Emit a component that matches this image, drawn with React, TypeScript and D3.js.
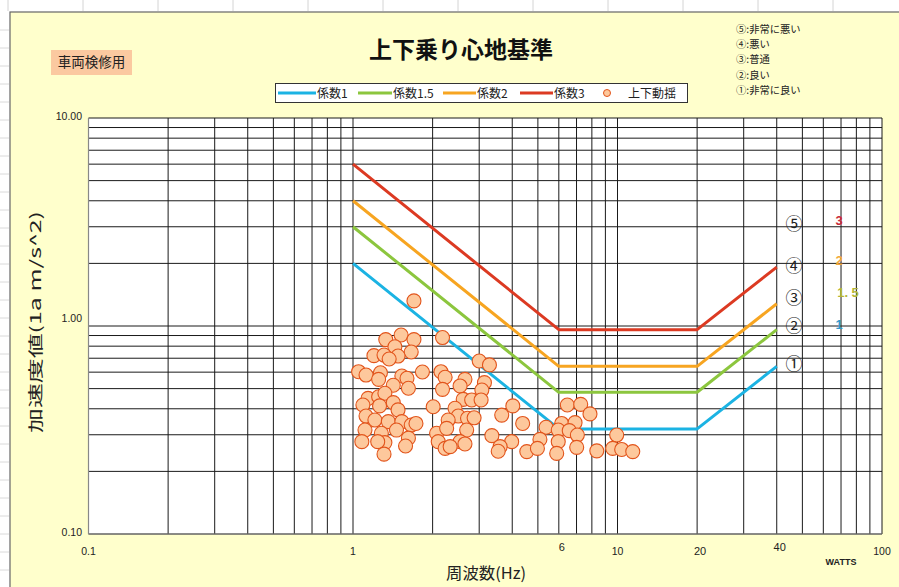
import React from "react";
import * as d3 from "d3";

// ---------- data ----------
const critFreq = [1, 6, 20, 40];
const coef1 = [2.0, 0.32, 0.32, 0.64];
const coef15 = [3.0, 0.48, 0.48, 0.96];
const coef2 = [4.0, 0.64, 0.64, 1.28];
const coef3 = [6.0, 0.96, 0.96, 1.92];

const seriesNames = ["係数1", "係数1.5", "係数2", "係数3"];
const seriesColors = ["#1bb3e3", "#8cc63e", "#f7a521", "#dc3a22"];
const seriesValues = [coef1, coef15, coef2, coef3];

const measFreq = [
  1.70, 2.18, 1.33, 1.52, 1.70, 1.44, 1.66, 1.20, 1.31, 1.48, 1.37, 1.05, 1.12, 1.27, 1.25,
  1.83, 1.53, 1.60, 1.42, 1.62, 2.15, 2.23, 2.18, 2.65, 2.54, 3.00, 3.28, 3.14, 3.07, 1.14,
  1.25, 1.32, 1.42, 1.09, 1.26, 1.48, 2.01, 2.61, 2.81, 3.05, 2.43, 1.12, 1.21, 1.36, 1.53,
  1.66, 1.73, 2.50, 2.71, 2.87, 2.29, 1.11, 1.28, 1.46, 1.62, 2.07, 2.26, 2.69, 3.35, 1.08,
  1.32, 1.24, 1.58, 2.10, 2.23, 2.54, 2.33, 1.31, 2.65, 4.02, 3.65, 4.38, 6.46, 7.26, 7.87,
  6.15, 6.91, 5.37, 5.97, 6.57, 7.05, 5.09, 5.97, 3.98, 3.60, 3.54, 4.54, 4.98, 5.89, 7.01,
  8.35, 9.93, 9.59, 10.37, 11.42,
];
const measAccel = [
  1.32, 0.88, 0.86, 0.905, 0.86, 0.795, 0.75, 0.72, 0.725, 0.717, 0.694, 0.603, 0.581, 0.596, 0.554,
  0.601, 0.575, 0.561, 0.519, 0.502, 0.603, 0.567, 0.496, 0.554, 0.515, 0.679, 0.65, 0.534, 0.492, 0.449,
  0.457, 0.475, 0.428, 0.417, 0.413, 0.395, 0.409, 0.444, 0.441, 0.441, 0.402, 0.369, 0.353, 0.347, 0.347,
  0.334, 0.34, 0.369, 0.36, 0.362, 0.353, 0.316, 0.305, 0.316, 0.289, 0.305, 0.322, 0.316, 0.297, 0.278,
  0.275, 0.278, 0.265, 0.278, 0.258, 0.278, 0.263, 0.242, 0.271, 0.413, 0.373, 0.34, 0.417, 0.42, 0.378,
  0.34, 0.343, 0.326, 0.316, 0.314, 0.299, 0.285, 0.278, 0.278, 0.263, 0.25, 0.249, 0.258, 0.244, 0.261,
  0.251, 0.299, 0.258, 0.255, 0.249,
];

const xTickLabels = [
  { v: 0.1, t: "0.1" },
  { v: 1, t: "1" },
  { v: 10, t: "10" },
  { v: 100, t: "100" },
];
const xExtraLabels = [
  { v: 6, t: "6", up: true },
  { v: 20, t: "20", up: false },
  { v: 40, t: "40", up: true },
];
const yTickLabels = [
  { v: 10, t: "10.00" },
  { v: 1, t: "1.00" },
  { v: 0.1, t: "0.10" },
];
const gradeNotes = ["⑤:非常に悪い", "④:悪い", "③:普通", "②:良い", "①:非常に良い"];
const gradeMarks = [
  { t: "⑤", v: 3.1 },
  { t: "④", v: 1.95 },
  { t: "③", v: 1.36 },
  { t: "②", v: 1.0 },
  { t: "①", v: 0.66 },
];
const coefMarks = [
  { t: "3", v: 3.25, color: "#c8283a", dx: 0 },
  { t: "2", v: 2.07, color: "#f2a83a", dx: 0 },
  { t: "1. 5", v: 1.46, color: "#b5b536", dx: 9 },
  { t: "1", v: 1.02, color: "#3399cc", dx: 0 },
];

// ---------- layout ----------
const W = 899;
const H = 587;
const PL = 88.5, PR = 882, PT = 118, PB = 534;

const JP = "'Noto Sans CJK JP', 'Noto Sans', sans-serif";
const AR = "'Liberation Sans', Arial, sans-serif";

export default function App() {
  const x = d3.scaleLog().domain([0.1, 100]).range([PL, PR]);
  const y = d3.scaleLog().domain([0.1, 10]).range([PB, PT]);
  const xGrid = x.ticks();
  const yGrid = y.ticks();

  const line = d3
    .line<[number, number]>()
    .x((d) => x(d[0]))
    .y((d) => y(d[1]));

  const excelCols = d3.range(8, W, 75);
  const excelRows = d3.range(30, H, 18);

  return (
    <svg
      width={W}
      height={H}
      style={{ position: "absolute", left: 0, top: 0, background: "#ffffff" }}
    >
      {/* excel sheet grid hints */}
      {excelCols.map((c) => (
        <line key={"c" + c} x1={c} x2={c} y1={0} y2={11} stroke="#d4d4d4" strokeWidth={1} />
      ))}
      {excelRows.map((r) => (
        <line key={"r" + r} x1={0} x2={9} y1={r} y2={r} stroke="#dadada" strokeWidth={1} />
      ))}
      {/* chart area */}
      <rect x={10} y={12} width={W} height={H} fill="#ffffcc" stroke="#666" strokeWidth={1.2} />

      {/* title */}
      <text x={461} y={58} textAnchor="middle" fontFamily={JP} fontWeight="bold" fontSize={23} fill="#111">
        上下乗り心地基準
      </text>

      {/* label box */}
      <rect x={51} y={50} width={81} height={25} fill="#fbc9a0" />
      <text x={91.5} y={67} textAnchor="middle" fontFamily={JP} fontSize={13.5} fill="#222">
        車両検修用
      </text>

      {/* grade notes */}
      {gradeNotes.map((g, i) => (
        <text key={g} x={736} y={33 + i * 15.2} fontFamily={JP} fontSize={10.3} fill="#222">
          {g}
        </text>
      ))}

      {/* legend */}
      <rect x={275.5} y={83.5} width={412} height={19} fill="#fff" stroke="#333" strokeWidth={1} />
      {[
        { x0: 278, x1: 316 },
        { x0: 358, x1: 392 },
        { x0: 443, x1: 476 },
        { x0: 520, x1: 553 },
      ].map((p, i) => (
        <g key={"lg" + i}>
          <line x1={p.x0} x2={p.x1} y1={93} y2={93} stroke={seriesColors[i]} strokeWidth={3} />
          <text x={p.x1 + 1} y={97.5} fontFamily={JP} fontSize={12} fill="#222">
            {seriesNames[i]}
          </text>
        </g>
      ))}
      <circle cx={607} cy={93} r={3.5} fill="#fdc89c" stroke="#e2541b" strokeWidth={1} />
      <text x={628} y={97.5} fontFamily={JP} fontSize={12} fill="#222">
        上下動揺
      </text>

      {/* plot area */}
      <rect x={PL} y={PT} width={PR - PL} height={PB - PT} fill="#ffffff" />
      {xGrid.map((v, i) => (
        <line key={"xg" + i} x1={x(v)} x2={x(v)} y1={PT} y2={PB} stroke="#1a1a1a" strokeWidth={1} />
      ))}
      {yGrid.map((v, i) => (
        <line key={"yg" + i} x1={PL} x2={PR} y1={y(v)} y2={y(v)} stroke="#1a1a1a" strokeWidth={1} />
      ))}
      <line x1={PL} x2={PL} y1={PT} y2={PB} stroke="#888" strokeWidth={1.2} />
      <line x1={PL} x2={PR} y1={PB} y2={PB} stroke="#888" strokeWidth={1.2} />

      {/* criterion lines */}
      {seriesValues.map((vals, i) => (
        <path
          key={"s" + i}
          d={line(critFreq.map((f, j) => [f, vals[j]] as [number, number])) || ""}
          fill="none"
          stroke={seriesColors[i]}
          strokeWidth={3}
          strokeLinejoin="round"
        />
      ))}

      {/* measured points */}
      {measFreq.map((f, i) => (
        <circle
          key={"m" + i}
          cx={x(f)}
          cy={y(measAccel[i])}
          r={7}
          fill="#fdc89c"
          stroke="#e2541b"
          strokeWidth={1.1}
        />
      ))}

      {/* right side marks */}
      {gradeMarks.map((g) => (
        <text key={g.t} x={794} y={y(g.v) + 6} textAnchor="middle" fontFamily={JP} fontSize={17} fill="#222">
          {g.t}
        </text>
      ))}
      {coefMarks.map((c) => (
        <text
          key={c.t}
          x={839 + c.dx}
          y={y(c.v) + 5}
          textAnchor="middle"
          fontFamily={AR}
          fontWeight="bold"
          fontSize={13}
          fill={c.color}
        >
          {c.t}
        </text>
      ))}

      {/* y tick labels */}
      {yTickLabels.map((t) => (
        <text key={t.t} x={82} y={y(t.v) + (t.v === 1 ? -4 : 2)} textAnchor="end" fontFamily={AR} fontSize={10.5} fill="#222">
          {t.t}
        </text>
      ))}
      {/* x tick labels */}
      {xTickLabels.map((t) => (
        <text key={t.t} x={x(t.v)} y={555} textAnchor="middle" fontFamily={AR} fontSize={10.5} fill="#222">
          {t.t}
        </text>
      ))}
      {xExtraLabels.map((t) => (
        <text key={t.t} x={x(t.v) + 3} y={t.up ? 551 : 555} textAnchor="middle" fontFamily={AR} fontSize={11} fill="#222">
          {t.t}
        </text>
      ))}
      <text x={841} y={565} textAnchor="middle" fontFamily={AR} fontWeight="bold" fontSize={9} fill="#222">
        WATTS
      </text>

      {/* axis titles */}
      <text
        x={486}
        y={579}
        textAnchor="middle"
        fontFamily={JP}
        fontSize={16}
        fill="#222"
        textLength={80}
        lengthAdjust="spacingAndGlyphs"
      >
        周波数(Hz)
      </text>
      <text
        transform={`translate(41, 322) rotate(-90)`}
        textAnchor="middle"
        fontFamily={JP}
        fontSize={15}
        fill="#222"
        textLength={222}
        lengthAdjust="spacingAndGlyphs"
      >
        加速度値(1a  m/s^2)
      </text>
    </svg>
  );
}
